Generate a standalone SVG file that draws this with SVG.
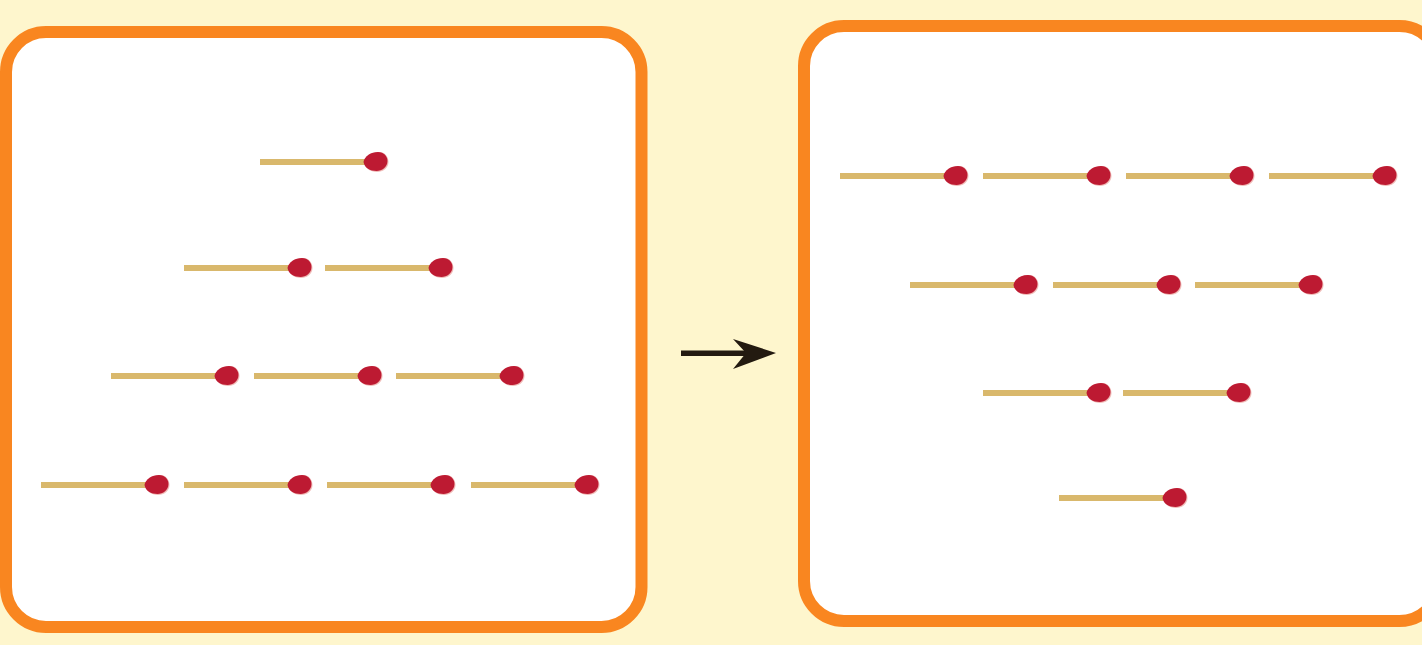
<svg xmlns="http://www.w3.org/2000/svg" width="1422" height="645" viewBox="0 0 1422 645">
<style>
.frame{fill:#fff;stroke:#f98620;stroke-width:12}
.stem{fill:#d9b86c}
.head{fill:#bd1a32}
.shine{fill:#f0bcb8}
</style>
<defs>
<g id="match">
<rect class="stem" x="0" y="-3" width="108" height="6"/>
<path class="shine" d="M104 0C105-6 112-10 119-10C125-10 128.500-5 128.500 0C128.500 6 123 10 117 10C110 10 105 6 104 0Z"/>
<path class="head" d="M103.500 0C104.500-6 111-10 118-10C124-10 127.500-5.500 127.500-1C127.500 5 122 9 116.500 9C110 9 104.500 6 103.500 0Z"/>
</g>
</defs>
<rect width="1422" height="645" fill="#fef6cd"/>
<g id="panel-left">
<rect class="frame" x="6" y="32" width="635.500" height="595" rx="40"/>
<use href="#match" x="260" y="162"/>
<use href="#match" x="184" y="268"/>
<use href="#match" x="325" y="268"/>
<use href="#match" x="111" y="376"/>
<use href="#match" x="254" y="376"/>
<use href="#match" x="396" y="376"/>
<use href="#match" x="41" y="485"/>
<use href="#match" x="184" y="485"/>
<use href="#match" x="327" y="485"/>
<use href="#match" x="471" y="485"/>
</g>
<g id="connectors">
<rect x="681" y="350.500" width="66" height="5.500" fill="#231a10"/>
<path d="M733 339L776 353L733 369L746 353Z" fill="#231a10"/>
</g>
<g id="panel-right">
<rect class="frame" x="804" y="26" width="635.500" height="595" rx="40"/>
<use href="#match" x="840" y="176"/>
<use href="#match" x="983" y="176"/>
<use href="#match" x="1126" y="176"/>
<use href="#match" x="1269" y="176"/>
<use href="#match" x="910" y="285"/>
<use href="#match" x="1053" y="285"/>
<use href="#match" x="1195" y="285"/>
<use href="#match" x="983" y="393"/>
<use href="#match" x="1123" y="393"/>
<use href="#match" x="1059" y="498"/>
</g>
</svg>
